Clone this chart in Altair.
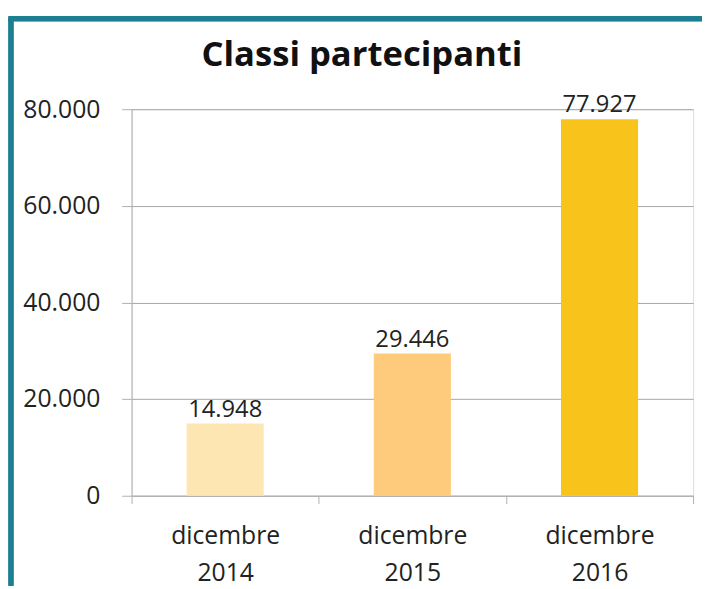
import altair as alt
import pandas as pd

categories = ["dicembre 2014", "dicembre 2015", "dicembre 2016"]
values = [14948, 29446, 77927]
colors = ["#FEE6B2", "#FECB7D", "#F8C41C"]
y_ticks = [0, 20000, 40000, 60000, 80000]
title_text = ["Classi partecipanti"]

df = pd.DataFrame({"periodo": categories, "classi": values, "colore": colors})

FONT = "Open Sans"

base = alt.Chart(df).encode(
    x=alt.X(
        "periodo:N",
        sort=categories,
        scale=alt.Scale(paddingInner=0, paddingOuter=0),
        axis=alt.Axis(
            title=None,
            labelAngle=0,
            labelExpr="split(datum.label, ' ')",
            labelFont=FONT,
            labelFontSize=25,
            labelColor="#222222",
            labelLineHeight=38,
            labelPadding=20,
            labelBaseline="top",
            tickBand="extent",
            tickSize=8,
            tickColor="#b0b0b0",
            domainColor="#b0b0b0",
            domainWidth=1,
            grid=False,
        ),
    ),
    y=alt.Y(
        "classi:Q",
        scale=alt.Scale(domain=[0, 80000], nice=False),
        axis=alt.Axis(
            title=None,
            values=y_ticks,
            labelExpr="replace(format(datum.value, ','), ',', '.')",
            labelFont=FONT,
            labelFontSize=25,
            labelColor="#222222",
            labelPadding=22,
            tickSize=10,
            tickColor="#b0b0b0",
            domainColor="#b0b0b0",
            gridColor="#a6a6a6",
            gridWidth=1,
        ),
    ),
)

bars = base.mark_bar(size=78).encode(color=alt.Color("colore:N", scale=None))

labels = base.transform_calculate(
    lab="replace(format(datum.classi, ','), ',', '.')"
).mark_text(
    font=FONT, fontSize=24, color="#222222", baseline="alphabetic", dy=-7
).encode(text="lab:N")

title = alt.Chart(pd.DataFrame({"t": title_text})).mark_text(
    font=FONT, fontSize=35, fontWeight="bold", color="#111111",
    baseline="alphabetic", align="center",
).encode(text="t:N", x=alt.value(233), y=alt.value(-44))

frame_left = alt.Chart(df).mark_rule(color="#1B7F91", strokeWidth=5, clip=False).encode(
    x=alt.value(-122), y=alt.value(-91.5), y2=alt.value(482)
)
frame_top = alt.Chart(df).mark_rule(color="#1B7F91", strokeWidth=5, clip=False).encode(
    x=alt.value(-124.5), x2=alt.value(577), y=alt.value(-91.5)
)

chart = alt.layer(bars, labels, title, frame_left, frame_top).properties(
    width=568,
    height=391,
    padding={"left": 125, "top": 99, "right": 9, "bottom": 91},
    autosize=alt.AutoSizeParams(type="none"),
).configure_view(stroke=None).configure(background="white")

chart.save("out.html", embed_options={"renderer": "svg", "actions": False})
